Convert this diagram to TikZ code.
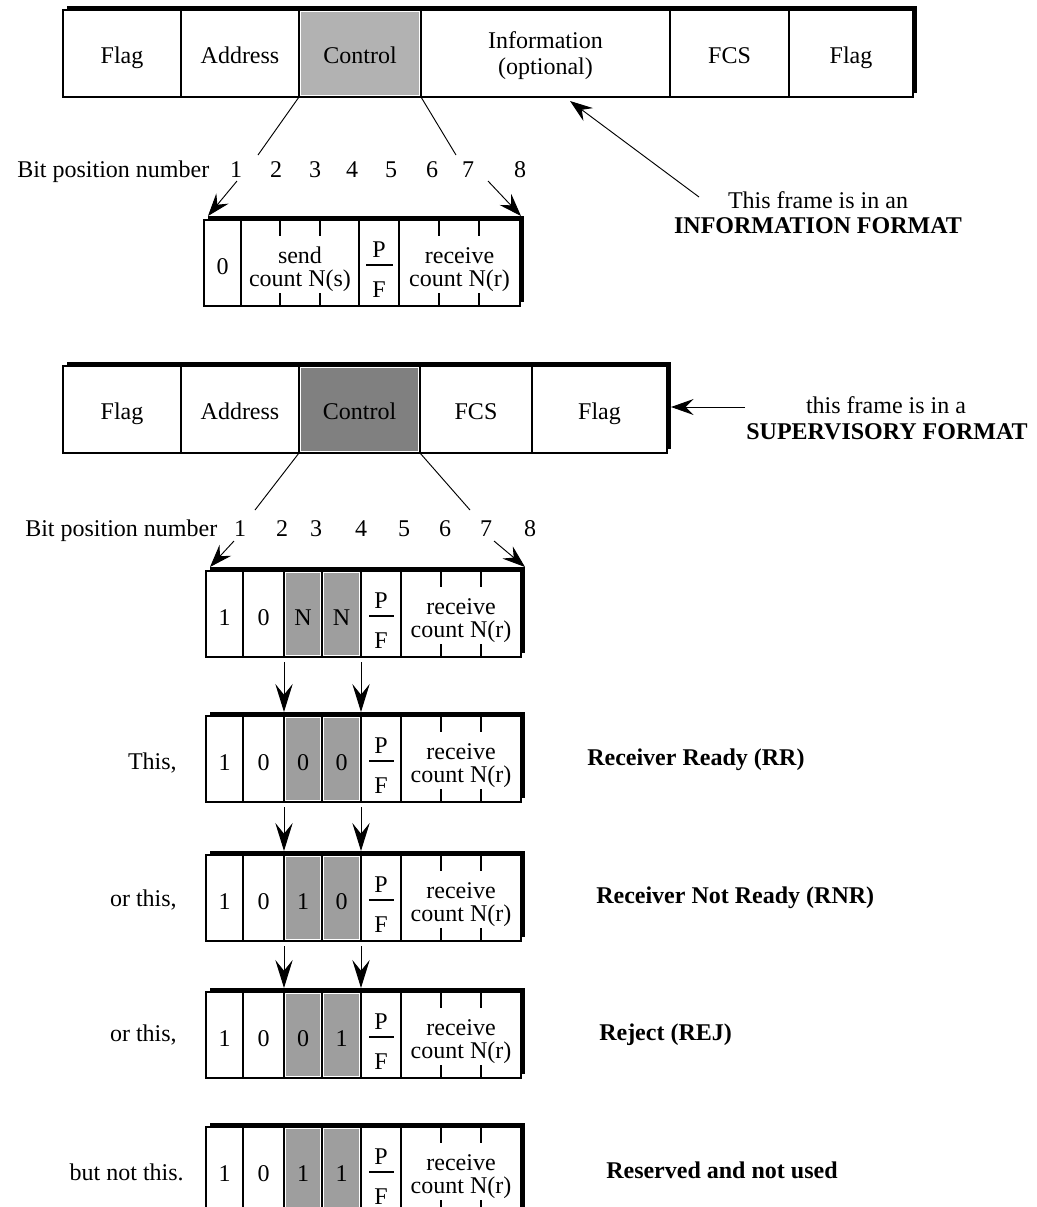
\documentclass[tikz,border=0pt]{standalone}
\usepackage{fontspec}
\setmainfont{Liberation Serif}
\usetikzlibrary{arrows.meta}
\newcommand\supbox[4]{%
  \begin{scope}[shift={(0,#2)}]
    \fill (210,-47) rectangle (525,39);
    \draw[box] (206,-43) rectangle (521,43);
    \fill[gMid] (286,-41) rectangle (320,41);
    \fill[gMid] (324,-41) rectangle (359,41);
    \draw[cellline] (243,-43)--(243,43) (284,-43)--(284,43) (322,-43)--(322,43)
                    (361,-43)--(361,43) (401,-43)--(401,43);
    \draw[cellline] (441,-43)--(441,-27) (481,-43)--(481,-27)
                    (441,43)--(441,30) (481,43)--(481,30);
    \draw[cellline] (369,2)--(394,2);
    \node[anchor=base] (#1b1) at (224.5,11) {1};
    \node[anchor=base] (#1b2) at (263.5,11) {0};
    \node[anchor=base] (#1b3) at (303,11) {#3};
    \node[anchor=base] (#1b4) at (341.5,11) {#4};
    \node[anchor=base] (#1p) at (381,-6) {P};
    \node[anchor=base] (#1f) at (381,34) {F};
    \node[anchor=base] (#1r1) at (461,0) {receive};
    \node[anchor=base] (#1r2) at (461,23) {count N(r)};
    \coordinate (#1tl) at (284,-47);
    \coordinate (#1tr) at (361,-47);
    \coordinate (#1bl) at (284,43);
    \coordinate (#1br) at (361,43);
    \coordinate (#1cl) at (210,-47);
    \coordinate (#1cr) at (525,-47);
  \end{scope}}
\begin{document}
\begin{tikzpicture}[x=0.75pt,y=-0.75pt,
  every node/.style={inner sep=0pt, font=\fontsize{18}{21}\selectfont},
  box/.style={draw=black, line width=1.1pt, fill=white},
  cellline/.style={line width=1.1pt},
  conn/.style={line width=0.7pt},
  arr/.style={conn, -{Stealth[length=17pt,width=12pt,inset=6pt]}},
  darr/.style={conn, shorten <=4pt, -{Stealth[length=21pt,width=13pt,inset=8pt]}},
  bold/.style={font=\fontsize{18}{21}\selectfont\bfseries},
  gLight/.style={fill=black!30},
  gDark/.style={fill=black!50},
  gMid/.style={fill=black!38}]
\useasboundingbox (0,0) rectangle (1037,1207);
\clip (0,0) rectangle (1037,1207);

% ---------- information frame ----------
\fill (67,6) rectangle (917,93);
\draw[box] (63,10) rectangle (913,97);
\fill[gLight] (301,12) rectangle (419,95);
\draw[cellline] (181,10)--(181,97) (299,10)--(299,97) (421,10)--(421,97)
                (670,10)--(670,97) (789,10)--(789,97);
\node[anchor=base] (iflag1) at (122,63) {Flag};
\node[anchor=base] (iaddr) at (240,63) {Address};
\node[anchor=base] (ictrl) at (360,63) {Control};
\node[anchor=base] (iinfo1) at (545.5,48) {Information};
\node[anchor=base] (iinfo2) at (545.5,74) {(optional)};
\node[anchor=base] (ifcs) at (729.5,63) {FCS};
\node[anchor=base] (iflag2) at (851,63) {Flag};
\coordinate (ictrlBL) at (299,97);
\coordinate (ictrlBR) at (421,97);
\coordinate (iinfoTip) at (570,101);

\node (itext1) at (818,200) {This frame is in an};
\node[bold] (itext2) at (818,226) {INFORMATION FORMAT};
\coordinate (itextStart) at (699,197);
\draw[arr] (itextStart) -- (iinfoTip);

% bit positions, row 1
\node[anchor=base west] (bp1) at (17,177) {Bit position number};
\foreach \x [count=\i] in {236,276,315,352,391,432,468,520}
  \node[anchor=base] (bpa\i) at (\x,177) {\i};
\coordinate (l1end) at (258,155);
\coordinate (r1end) at (456,155);
\draw[conn] (ictrlBL) -- (l1end);
\draw[conn] (ictrlBR) -- (r1end);

% information control field
\fill (208,216) rectangle (524,302);
\draw[box] (204,220) rectangle (520,306);
\draw[cellline] (241,220)--(241,306) (359,220)--(359,306) (399,220)--(399,306);
\draw[cellline] (280,220)--(280,236) (320,220)--(320,236)
                (280,306)--(280,293) (320,306)--(320,293)
                (439,220)--(439,236) (479,220)--(479,236)
                (439,306)--(439,293) (479,306)--(479,293);
\draw[cellline] (366,265)--(393,265);
\node[anchor=base] (ib0) at (222.5,274) {0};
\node[anchor=base] (isend1) at (300,263) {send};
\node[anchor=base] (isend2) at (300,286) {count N(s)};
\node[anchor=base] (ip) at (379,257) {P};
\node[anchor=base] (if) at (379,297) {F};
\node[anchor=base] (irec1) at (459.5,263) {receive};
\node[anchor=base] (irec2) at (459.5,286) {count N(r)};
\coordinate (iboxTL) at (208,216);
\coordinate (iboxTR) at (521,216);
\coordinate (a1s) at (237,181);
\coordinate (a2s) at (488,181);
\draw[arr] (a1s) -- (iboxTL);
\draw[arr] (a2s) -- (iboxTR);

% ---------- supervisory frame ----------
\fill (67,362) rectangle (671,449);
\draw[box] (63,366) rectangle (667,453);
\fill[gDark] (301,368) rectangle (418,451);
\draw[cellline] (181,366)--(181,453) (299,366)--(299,453) (420,366)--(420,453)
                (532,366)--(532,453);
\node[anchor=base] (sflag1) at (122,419) {Flag};
\node[anchor=base] (saddr) at (240,419) {Address};
\node[anchor=base] (sctrl) at (359.5,419) {Control};
\node[anchor=base] (sfcs) at (476,419) {FCS};
\node[anchor=base] (sflag2) at (599.5,419) {Flag};
\coordinate (sctrlBL) at (299,453);
\coordinate (sctrlBR) at (420,453);
\coordinate (sframeR) at (671,407);

\node (stext1) at (886,405) {this frame is in a};
\node[bold] (stext2) at (887,432) {SUPERVISORY FORMAT};
\coordinate (stextStart) at (745,407);
\draw[arr] (stextStart) -- (sframeR);

% bit positions, row 2
\node[anchor=base west] (bp2) at (25,536) {Bit position number};
\foreach \x [count=\i] in {240,282,316,361,404,445,486,530}
  \node[anchor=base] (bpb\i) at (\x,536) {\i};
\coordinate (l2end) at (255,510);
\coordinate (r2end) at (470,510);
\draw[conn] (sctrlBL) -- (l2end);
\draw[conn] (sctrlBR) -- (r2end);

% ---------- supervisory control fields ----------
\supbox{nn}{614}{N}{N}
\supbox{rr}{759}{0}{0}
\supbox{rnr}{898}{1}{0}
\supbox{rej}{1035}{0}{1}
\supbox{res}{1170}{1}{1}

\coordinate (a3s) at (234,541);
\coordinate (a4s) at (494,541);
\draw[arr] (a3s) -- (nncl);
\draw[arr] (a4s) -- (nncr);

\draw[darr] (nnbl) -- (rrtl);
\draw[darr] (nnbr) -- (rrtr);
\draw[darr] (rrbl) -- (rnrtl);
\draw[darr] (rrbr) -- (rnrtr);
\draw[darr] (rnrbl) -- (rejtl);
\draw[darr] (rnrbr) -- (rejtr);

% row labels
\node[anchor=east] (lrr) at (177,763) {This,};
\node[anchor=east] (lrnr) at (177,900) {or this,};
\node[anchor=east] (lrej) at (177,1035) {or this,};
\node[anchor=east] (lres) at (184,1172) {but not this.};

\node[bold,anchor=west] (nrr) at (587,760) {Receiver Ready (RR)};
\node[bold,anchor=west] (nrnr) at (596,898) {Receiver Not Ready (RNR)};
\node[bold,anchor=west] (nrej) at (599,1035) {Reject (REJ)};
\node[bold,anchor=west] (nres) at (606,1170) {Reserved and not used};
\end{tikzpicture}
\end{document}
